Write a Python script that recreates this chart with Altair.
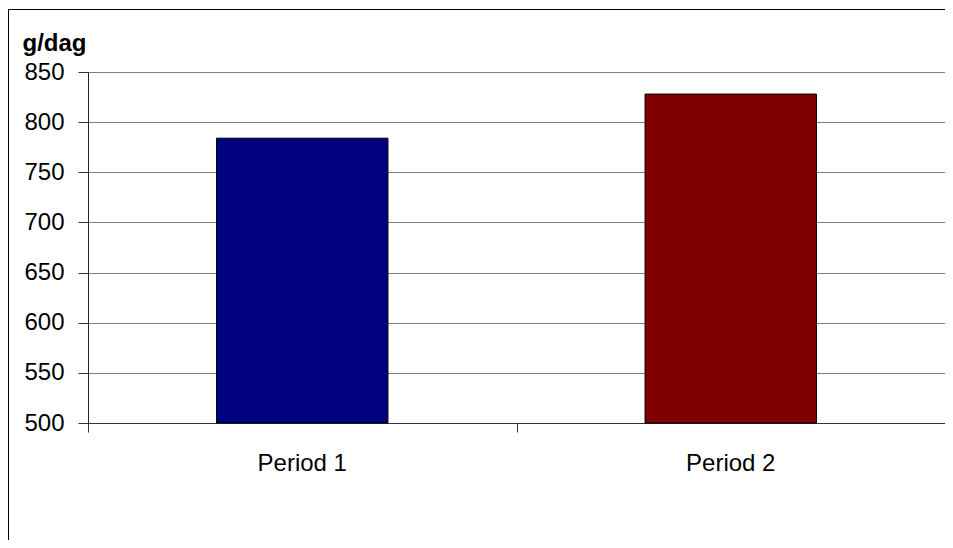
import altair as alt
import pandas as pd

periods = ["Period 1", "Period 2"]
values = [784, 828]
colors = ["#000080", "#800000"]
boundaries = [0, 1, 2]
y_ticks = [500, 550, 600, 650, 700, 750, 800, 850]

df = pd.DataFrame({"period": periods, "value": values, "color": colors})
bdf = pd.DataFrame({"b": boundaries})
one = pd.DataFrame({"k": [0]})

FONT = "Liberation Sans"

bars = alt.Chart(df).mark_bar(stroke="black", strokeWidth=1).encode(
    x=alt.X("period:N", sort=periods,
            scale=alt.Scale(paddingInner=0.6, paddingOuter=0.3),
            axis=alt.Axis(orient="bottom", title=None, labelAngle=0, ticks=False, tickSize=0,
                          domain=False, labelPadding=28, labelFontSize=24,
                          labelFont=FONT, labelColor="black", grid=False)),
    y=alt.Y("value:Q", scale=alt.Scale(domain=[500, 850], nice=False, zero=False),
            axis=alt.Axis(values=y_ticks, title="g/dag", titleAngle=0, titleAlign="left",
                          titleBaseline="alphabetic", titleX=-66, titleY=-22,
                          titleFont=FONT, titleFontSize=24, titleFontWeight="bold",
                          titleColor="black",
                          labelFont=FONT, labelFontSize=24, labelColor="black",
                          labelPadding=14, tickSize=10, tickColor="#333333",
                          domainColor="#222222", grid=True, gridColor="#808080",
                          gridWidth=1)),
    y2=alt.datum(500),
    color=alt.Color("color:N", scale=None),
)

ticks = alt.Chart(bdf).mark_point(opacity=0).encode(
    x=alt.X("b:Q", scale=alt.Scale(domain=[0, 2], nice=False),
            axis=alt.Axis(orient="bottom", values=boundaries, labels=False, title=None,
                          tickSize=9, tickColor="#333333", domainColor="#333333",
                          grid=False)),
)

frame_left = alt.Chart(one).mark_rule(color="black", strokeWidth=1, clip=False).encode(
    x=alt.value(-79.5), y=alt.value(-62.5), y2=alt.value(1000)
)
frame_top = alt.Chart(one).mark_rule(color="black", strokeWidth=1, clip=False).encode(
    x=alt.value(-79.5), x2=alt.value(2000), y=alt.value(-62.5)
)

chart = alt.layer(frame_left, frame_top, bars, ticks).resolve_scale(x="independent").properties(
    width=857, height=351,
    autosize=alt.AutoSizeParams(type="none"),
    padding={"left": 80, "top": 64, "right": 0, "bottom": 117},
).configure_view(stroke="#808080", strokeWidth=1).configure(background="white")

chart.save("out.html", embed_options={"renderer": "svg", "actions": False})
